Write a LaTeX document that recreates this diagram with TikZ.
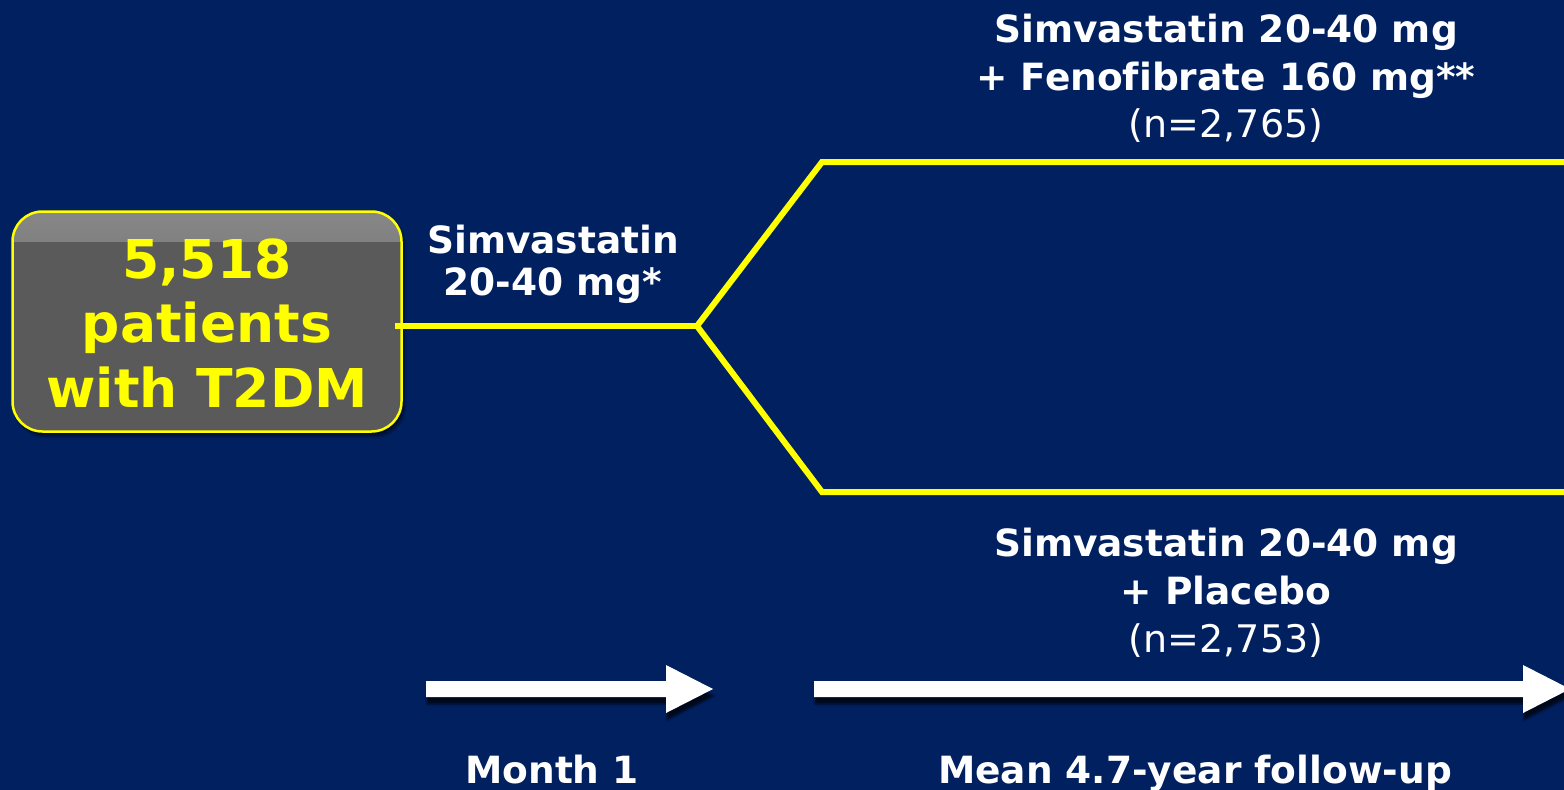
\documentclass[tikz,border=0pt]{standalone}
\usepackage{fontspec}
\setmainfont[Ligatures=NoCommon]{DejaVu Sans}
\usetikzlibrary{shadows.blur}
\definecolor{navy}{RGB}{0,32,96}
\definecolor{boxgray}{RGB}{90,90,90}
\definecolor{boxtop}{RGB}{135,135,135}
\definecolor{ylw}{RGB}{255,255,0}
\tikzset{
  lbl/.style={text=white, font=\fontsize{37.5}{45}\selectfont\bfseries, inner sep=0pt, anchor=base},
  nlbl/.style={text=white, font=\fontsize{38}{45}\selectfont, inner sep=0pt, anchor=base},
  boxtxt/.style={text=ylw, font=\fontsize{53.5}{64}\selectfont\bfseries, inner sep=0pt, anchor=base},
  branch/.style={draw=ylw, line width=6pt},
  bigarrow/.style={fill=white, draw=none, blur shadow={shadow xshift=1pt, shadow yshift=-7pt, shadow blur steps=3, shadow blur radius=2pt, shadow opacity=70}},
}
\begin{document}
\begin{tikzpicture}[x=1pt,y=-1pt]
\fill[navy] (0,0) rectangle (1564,790);
\useasboundingbox (0,0) rectangle (1564,790);
% patients box
\node[draw=ylw, line width=2.5pt, rounded corners=30pt, minimum width=389pt, minimum height=220pt,
  fill=boxgray, inner sep=0pt, blur shadow={shadow xshift=3pt, shadow yshift=-5pt, shadow opacity=50},
  path picture={\fill[sharp corners, top color=boxtop, bottom color=boxgray] (path picture bounding box.north west) rectangle ([yshift=-30pt]path picture bounding box.north east);}]
  (box) at (207,321.5) {};
\node[boxtxt] (b1) at (207,278) {5,518};
\node[boxtxt] (b2) at (207,342) {patients};
\node[boxtxt] (b3) at (207,407) {with T2DM};
% branches
\coordinate (split) at (697,326);
\coordinate (topstart) at (822,162);
\coordinate (botstart) at (822,492);
\coordinate (topend) at (1570,162);
\coordinate (botend) at (1570,492);
\draw[branch] ([xshift=-8pt]box.east |- split) -- (split);
\draw[branch, line join=miter] (topend) -- (topstart) -- (split) -- (botstart) -- (botend);
% labels
\node[lbl] (run1) at (553,253) {Simvastatin};
\node[lbl] (run2) at (553,295) {20-40 mg*};
\node[lbl] (top1) at (1226,42) {Simvastatin 20-40 mg};
\node[lbl] (top2) at (1226,90) {+ Fenofibrate 160 mg**};
\node[nlbl] (topn) at (1226,137) {(n=2,765)};
\node[lbl] (bot1) at (1226,556) {Simvastatin 20-40 mg};
\node[lbl] (bot2) at (1226,604) {+ Placebo};
\node[nlbl] (botn) at (1226,652) {(n=2,753)};
% timeline arrows
\fill[bigarrow] (426,681) -- (666,681) -- (666,665) -- (713,689) -- (666,713) -- (666,697) -- (426,697) -- cycle;
\fill[bigarrow] (814,681) -- (1523,681) -- (1523,665) -- (1570,689) -- (1523,713) -- (1523,697) -- (814,697) -- cycle;
\node[lbl] (m1) at (552,783) {Month 1};
\node[lbl] (fu) at (1195,783) {Mean 4.7-year follow-up};
\end{tikzpicture}
\end{document}
